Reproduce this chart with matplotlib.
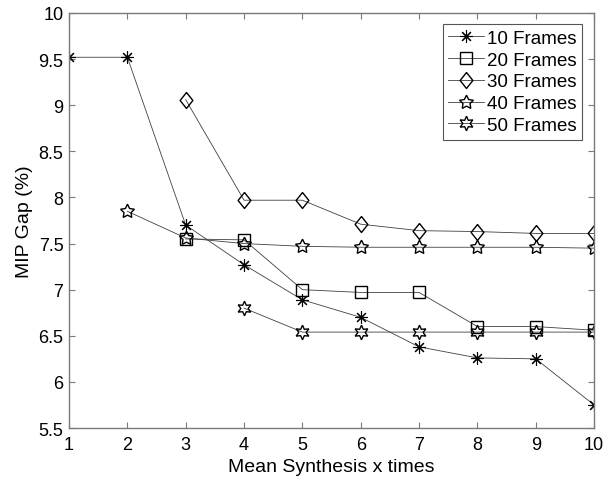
# MIP gap versus number of mean-synthesis iterations
import matplotlib
matplotlib.use('Agg')
import matplotlib.pyplot as plt

plt.rcParams['font.family'] = ['Liberation Sans', 'DejaVu Sans']

x_10 = [1, 2, 3, 4, 5, 6, 7, 8, 9, 10]
gap_10 = [9.52, 9.52, 7.70, 7.27, 6.89, 6.70, 6.38, 6.26, 6.25, 5.75]

x_20 = [3, 4, 5, 6, 7, 8, 9, 10]
gap_20 = [7.55, 7.54, 7.00, 6.97, 6.97, 6.60, 6.60, 6.56]

x_30 = [3, 4, 5, 6, 7, 8, 9, 10]
gap_30 = [9.06, 7.97, 7.97, 7.71, 7.64, 7.63, 7.61, 7.61]

x_40 = [2, 3, 4, 5, 6, 7, 8, 9, 10]
gap_40 = [7.85, 7.56, 7.50, 7.47, 7.46, 7.46, 7.46, 7.46, 7.45]

x_50 = [4, 5, 6, 7, 8, 9, 10]
gap_50 = [6.80, 6.54, 6.54, 6.54, 6.54, 6.54, 6.54]

labels = ['10 Frames', '20 Frames', '30 Frames', '40 Frames', '50 Frames']
xs = [x_10, x_20, x_30, x_40, x_50]
gaps = [gap_10, gap_20, gap_30, gap_40, gap_50]

# matlab-like diamond (a bit taller than wide)
diamond = [(0, 1), (0.8, 0), (0, -1), (-0.8, 0), (0, 1)]
markers = [(8, 2, 0), 's', diamond, (5, 1, 0), (6, 1, 0)]
sizes = [9, 8, 11.5, 10.5, 10.5]
edge_w = [0.8, 1.0, 1.0, 1.0, 1.0]

fig = plt.figure(figsize=(6.13, 4.81), dpi=100)
ax = fig.add_axes([0.1126, 0.1081, 0.8565, 0.8628])

for x, y, m, s, w, lab in zip(xs, gaps, markers, sizes, edge_w, labels):
    ax.plot(x, y, color='#404040', lw=0.6, marker=m, markersize=s,
            markerfacecolor='none', markeredgecolor='black', mew=w, label=lab)

ax.set_xlim(1, 10)
ax.set_ylim(5.5, 10)
ax.set_xticks(range(1, 11))
ax.set_yticks([5.5, 6, 6.5, 7, 7.5, 8, 8.5, 9, 9.5, 10])
ax.set_yticklabels(['5.5', '6', '6.5', '7', '7.5', '8', '8.5', '9', '9.5', '10'])

for sp in ax.spines.values():
    sp.set_color('#7a7a7a')
    sp.set_linewidth(1.0)
ax.tick_params(direction='in', length=4, width=0.8, color='#7a7a7a',
               labelsize=13, top=True, right=True)
ax.tick_params(axis='x', pad=6)
ax.tick_params(axis='y', pad=4)

ax.set_xlabel('Mean Synthesis x times', fontsize=14, labelpad=3)
ax.set_ylabel('MIP Gap (%)', fontsize=14, labelpad=4)

leg = ax.legend(loc='upper right', bbox_to_anchor=(0.977, 0.9735), borderaxespad=0,
                fontsize=13.5, handlelength=1.9, handletextpad=0.15, borderpad=0.3,
                labelspacing=0.25, fancybox=False, framealpha=1)
leg.get_frame().set_edgecolor('#555555')
leg.get_frame().set_linewidth(0.8)

fig.savefig('out.png', dpi=100)
